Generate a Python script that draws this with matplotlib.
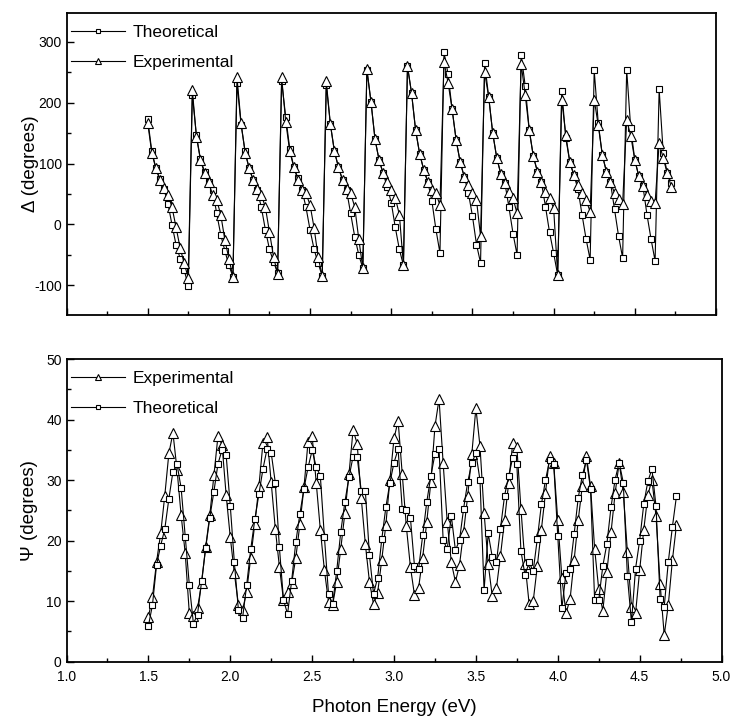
import matplotlib
matplotlib.use("Agg")
import matplotlib.pyplot as plt
from matplotlib.ticker import MultipleLocator

plt.rcParams['font.family'] = ['Liberation Sans', 'DejaVu Sans']
plt.rcParams['axes.unicode_minus'] = False

# photon energy grid (eV)
energy = [
    1.500, 1.525, 1.550, 1.575, 1.600, 1.625, 1.650, 1.675, 1.700, 1.725,
    1.750, 1.775, 1.800, 1.825, 1.850, 1.875, 1.900, 1.925, 1.950, 1.975,
    2.000, 2.025, 2.050, 2.075, 2.100, 2.125, 2.150, 2.175, 2.200, 2.225,
    2.250, 2.275, 2.300, 2.325, 2.350, 2.375, 2.400, 2.425, 2.450, 2.475,
    2.500, 2.525, 2.550, 2.575, 2.600, 2.625, 2.650, 2.675, 2.700, 2.725,
    2.750, 2.775, 2.800, 2.825, 2.850, 2.875, 2.900, 2.925, 2.950, 2.975,
    3.000, 3.025, 3.050, 3.075, 3.100, 3.125, 3.150, 3.175, 3.200, 3.225,
    3.250, 3.275, 3.300, 3.325, 3.350, 3.375, 3.400, 3.425, 3.450, 3.475,
    3.500, 3.525, 3.550, 3.575, 3.600, 3.625, 3.650, 3.675, 3.700, 3.725,
    3.750, 3.775, 3.800, 3.825, 3.850, 3.875, 3.900, 3.925, 3.950, 3.975,
    4.000, 4.025, 4.050, 4.075, 4.100, 4.125, 4.150, 4.175, 4.200, 4.225,
    4.250, 4.275, 4.300, 4.325, 4.350, 4.375, 4.400, 4.425, 4.450, 4.475,
    4.500, 4.525, 4.550, 4.575, 4.600, 4.625, 4.650, 4.675, 4.700, 4.725,
]

# Delta (degrees)
delta_theo = [
    173, 121, 93, 75, 58, 34, -1, -34, -56, -75, -101,
    213, 147, 107, 87, 69, 56, 18, -17, -43, -67, -86,
    232, 164, 120, 92, 73, 56, 28, -9, -41, -61, -80,
    235, 177, 124, 95, 76, 57, 28, -9, -41, -64, -85,
    229, 165, 120, 94, 73, 56, 18, -20, -50, -72,
    254, 202, 140, 106, 84, 62, 36, -5, -41, -67,
    260, 216, 155, 116, 90, 70, 39, -8, -47,
    283, 247, 189, 138, 102, 78, 52, 14, -33, -63,
    266, 210, 150, 109, 83, 68, 28, -15, -50,
    279, 228, 155, 112, 87, 69, 29, -13, -47, -83,
    220, 142, 102, 81, 58, 16, -24, -58,
    253, 166, 114, 87, 69, 25, -19, -55,
    254, 158, 106, 79, 63, 16, -24, -60,
    222, 118, 84, 68,
]
delta_exp = [
    167, 118, 92, 73, 60, 49, 28, -5, -39, -64, -88,
    221, 144, 106, 84, 69, 49, 40, 16, -25, -56, -86,
    242, 167, 118, 92, 73, 58, 49, 28, -12, -53, -81,
    242, 169, 120, 94, 73, 56, 51, 32, -6, -54, -85,
    235, 165, 120, 94, 73, 58, 51, 29, -24, -72,
    255, 202, 140, 106, 84, 69, 56, 44, 16, -67,
    260, 216, 155, 116, 90, 70, 57, 51, 32,
    267, 233, 189, 138, 102, 78, 65, 52, 40, -19,
    250, 210, 150, 109, 83, 68, 54, 43, 18,
    264, 213, 155, 112, 87, 69, 54, 43, 27, -83,
    205, 147, 102, 81, 65, 52, 40, 21,
    205, 163, 114, 87, 69, 52, 41, 34,
    171, 146, 106, 79, 63, 49, 38, 35,
    134, 109, 84, 62,
]

# Psi (degrees)
psi_theo = [
    5.9, 9.4, 16.0, 19.2, 21.9, 26.9, 31.4, 32.6, 28.7, 20.6,
    12.7, 6.3, 7.8, 13.3, 18.8, 23.8, 28.1, 32.7, 35.0, 34.1,
    25.8, 16.4, 8.5, 7.2, 12.6, 18.6, 23.5, 27.7, 31.9, 35.2,
    34.5, 29.6, 18.9, 10.2, 7.9, 13.4, 19.7, 24.4, 28.6, 32.1,
    34.9, 32.2, 30.7, 20.6, 11.2, 9.5, 15.0, 21.5, 26.4, 30.5,
    33.9, 33.8, 28.2, 28.2, 17.6, 11.2, 13.9, 20.2, 25.5, 29.6,
    32.9, 35.1, 25.3, 25.0, 23.8, 15.8, 15.3, 20.9, 26.4, 30.7,
    34.3, 35.1, 20.1, 18.6, 24.1, 18.4, 20.1, 25.3, 29.7, 32.8,
    34.5, 30.0, 11.8, 21.2, 17.3, 16.4, 22.0, 27.4, 30.7, 33.7,
    32.6, 18.3, 14.3, 16.4, 15.0, 20.3, 26.0, 30.0, 33.3, 32.7,
    20.8, 8.8, 14.6, 15.4, 21.1, 27.1, 30.8, 33.3, 28.6, 10.2,
    10.2, 15.8, 19.5, 25.5, 30.1, 32.9, 29.6, 14.2, 6.5, 15.4,
    20.0, 26.0, 29.8, 31.8, 25.7, 10.3, 9.1, 16.5, 22.3, 27.4,
]
psi_exp = [
    7.4, 10.7, 16.5, 21.2, 27.4, 34.4, 37.8, 31.7, 24.2, 17.9,
    8.0, 7.5, 8.8, 13.0, 19.0, 24.2, 30.8, 37.3, 35.8, 27.5,
    20.6, 14.6, 9.4, 8.5, 11.6, 17.2, 22.8, 29.0, 36.2, 37.2,
    29.7, 22.0, 15.7, 10.2, 11.6, 13.0, 17.1, 22.7, 28.8, 36.3,
    37.3, 29.5, 21.8, 15.1, 9.9, 9.4, 13.2, 18.7, 24.6, 31.0,
    38.3, 36.0, 27.0, 19.4, 13.2, 9.5, 11.4, 16.8, 22.6, 30.1,
    36.9, 39.8, 31.0, 22.4, 15.7, 11.0, 12.2, 17.2, 23.1, 29.7,
    38.9, 43.4, 32.8, 23.1, 16.4, 13.2, 16.0, 21.5, 27.4, 34.3,
    41.9, 35.6, 24.6, 16.2, 10.8, 12.1, 17.5, 23.4, 29.5, 36.2,
    35.5, 25.3, 16.2, 9.6, 10.0, 15.8, 21.8, 27.9, 34.0, 32.8,
    23.4, 13.9, 8.0, 10.3, 16.8, 23.4, 29.1, 34.0, 29.0, 18.7,
    12.0, 8.4, 14.9, 21.5, 27.8, 32.9, 28.0, 18.2, 9.1, 8.0,
    15.1, 21.8, 27.5, 30.1, 24.0, 12.9, 4.4, 9.4, 16.8, 22.6,
]

sq = dict(color='black', lw=0.8, marker='s', ms=5, mfc='white', mec='black', mew=0.8)
tri = dict(color='black', lw=0.8, marker='^', ms=6.5, mfc='white', mec='black', mew=0.8)
leg_kw = dict(loc='upper left', bbox_to_anchor=(-0.012, 1.0), frameon=False,
              fontsize=12.5, handlelength=3.1, handletextpad=0.45,
              markerscale=0.7, borderpad=0.6, labelspacing=0.85, borderaxespad=0.1)


def style(ax):
    for s in ax.spines.values():
        s.set_linewidth(1.3)
    ax.tick_params(which='both', direction='in', top=False, right=False,
                   labelsize=10, width=1.0)
    ax.tick_params(which='major', length=5)
    ax.tick_params(which='minor', length=3)
    ax.tick_params(axis='x', pad=6)
    ax.xaxis.set_major_locator(MultipleLocator(0.5))
    ax.xaxis.set_minor_locator(MultipleLocator(0.25))
    ax.set_xlim(1.0, 5.0)


fig = plt.figure(figsize=(7.30, 7.21), dpi=100)

ax1 = fig.add_axes([0.0911, 0.5638, 0.8897, 0.4186])
ax1.plot(energy, delta_theo, label='Theoretical', **sq)
ax1.plot(energy, delta_exp, label='Experimental', **tri)
style(ax1)
ax1.set_ylim(-148, 348)
ax1.yaxis.set_major_locator(MultipleLocator(100))
ax1.yaxis.set_minor_locator(MultipleLocator(50))
ax1.tick_params(axis='x', labelbottom=False)
ax1.set_ylabel('Δ (degrees)', fontsize=13.5, labelpad=-4)
ax1.legend(**leg_kw)

ax2 = fig.add_axes([0.0911, 0.0822, 0.8973, 0.4198])
ax2.plot(energy, psi_exp, label='Experimental', **tri)
ax2.plot(energy, psi_theo, label='Theoretical', **sq)
style(ax2)
ax2.set_ylim(0, 50)
ax2.yaxis.set_major_locator(MultipleLocator(10))
ax2.yaxis.set_minor_locator(MultipleLocator(5))
ax2.set_ylabel('Ψ (degrees)', fontsize=13.5, labelpad=6)
ax2.set_xlabel('Photon Energy (eV)', fontsize=13.5, labelpad=11)
ax2.legend(**leg_kw)

fig.savefig('out.png', dpi=100)
